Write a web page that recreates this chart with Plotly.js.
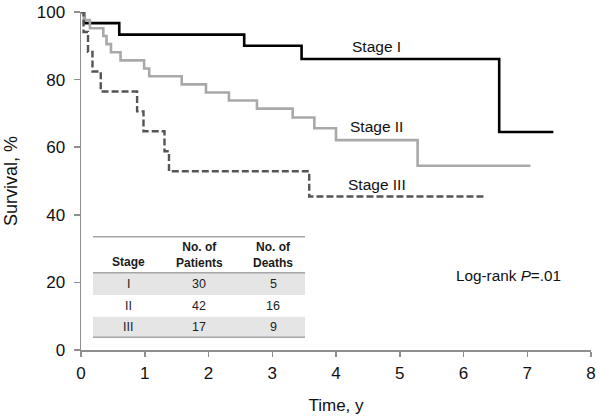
<!DOCTYPE html>
<html>
<head>
<meta charset="utf-8">
<script src="https://cdn.plot.ly/plotly-3.0.1.min.js"></script>
<style>
html, body { margin: 0; padding: 0; background: #fff; }
#chart { width: 600px; height: 418px; }
</style>
</head>
<body>
<div id="chart"></div>
<script>
// ---- Data ----
const stage1Time = [0, 0.05, 0.60, 2.56, 3.46, 6.56, 7.41];
const stage1Surv = [100, 96.7, 93.3, 90.0, 86.1, 64.5, 64.5];

const stage2Time = [0, 0.05, 0.14, 0.35, 0.40, 0.47, 0.62, 0.99, 1.07, 1.58, 1.96, 2.32, 2.76, 3.32, 3.66, 4.00, 5.28, 7.05];
const stage2Surv = [100, 97.6, 95.2, 92.9, 90.5, 88.1, 85.7, 83.3, 81.0, 78.6, 76.2, 73.8, 71.4, 68.8, 65.6, 62.1, 54.5, 54.5];

const stage3Time = [0, 0.04, 0.11, 0.18, 0.31, 0.88, 0.98, 1.31, 1.38, 3.58, 6.33];
const stage3Surv = [100, 94.1, 88.2, 82.4, 76.5, 70.6, 64.7, 58.8, 52.9, 45.4, 45.4];

const stageNames = ["Stage I", "Stage II", "Stage III"];
const tableStages = ["I", "II", "III"];
const tablePatients = [30, 42, 17];
const tableDeaths = [5, 16, 9];
const tableHeaders = ["Stage", "No. of<br>Patients", "No. of<br>Deaths"];

const xTicks = [0, 1, 2, 3, 4, 5, 6, 7, 8];
const yTicks = [0, 20, 40, 60, 80, 100];

// ---- Layout helpers ----
const W = 600, H = 418;
const M = { l: 81, r: 9, t: 12, b: 68 };
const pw = W - M.l - M.r, ph = H - M.t - M.b;
const xMax = 8, yMax = 100;
// convert image pixel coordinates to data coordinates (for annotation/shape placement)
const X = px => (px - M.l) / pw * xMax;
const Y = py => (H - M.b - py) / ph * yMax;

const FONT = "Liberation Sans, Arial, sans-serif";
const axisGray = "#8f8f8f";

const traces = [
  { x: stage1Time, y: stage1Surv, name: stageNames[0], mode: "lines",
    line: { shape: "hv", color: "#000000", width: 2.6 } },
  { x: stage2Time, y: stage2Surv, name: stageNames[1], mode: "lines",
    line: { shape: "hv", color: "#a9a9a9", width: 2.6 } },
  { x: stage3Time, y: stage3Surv, name: stageNames[2], mode: "lines",
    line: { shape: "hv", color: "#555555", width: 2.4, dash: "7px,3px" } }
];

const annotations = [];
const shapes = [];

// Curve labels
const labelPos = [[376.7, 46.7], [376.7, 126.7], [376.5, 184]];
stageNames.forEach((s, i) => {
  annotations.push({ x: X(labelPos[i][0]), y: Y(labelPos[i][1]), xref: "x", yref: "y",
    text: s, showarrow: false, xanchor: "center", yanchor: "middle",
    font: { family: FONT, size: 15.5, color: "#111" } });
});

// Log-rank annotation
annotations.push({ x: X(508), y: Y(275), xref: "x", yref: "y",
  text: "Log-rank <i>P</i>=.01", showarrow: false, xanchor: "center", yanchor: "middle",
  font: { family: FONT, size: 15.3, color: "#111" } });

// Table
const tblL = 93, tblR = 305;
const colX = [128.3, 199, 273.3];
const bandColor = "#e5e5e5";
const ruleColor = "#a6a6a6";
// bands for rows I and III
[[272.7, 295], [316.7, 337.3]].forEach(b => {
  shapes.push({ type: "rect", xref: "x", yref: "y", x0: X(tblL), x1: X(tblR), y0: Y(b[1]), y1: Y(b[0]),
    fillcolor: bandColor, line: { width: 0 }, layer: "below" });
});
[236.7, 272.7, 337.3].forEach(py => {
  shapes.push({ type: "line", xref: "x", yref: "y", x0: X(tblL), x1: X(tblR), y0: Y(py), y1: Y(py),
    line: { color: ruleColor, width: 1.6 }, layer: "below" });
});
tableHeaders.forEach((h, i) => {
  annotations.push({ x: X(colX[i]), y: Y(i === 0 ? 262 : 255), xref: "x", yref: "y",
    text: "<b>" + h + "</b>", showarrow: false, xanchor: "center", yanchor: "middle",
    font: { family: FONT, size: 12, color: "#1a1a1a" } });
});
const rowY = [284, 306, 327.3];
tableStages.forEach((s, r) => {
  const vals = [s, tablePatients[r], tableDeaths[r]];
  vals.forEach((v, c) => {
    annotations.push({ x: X(colX[c]), y: Y(rowY[r]), xref: "x", yref: "y",
      text: String(v), showarrow: false, xanchor: "center", yanchor: "middle",
      font: { family: FONT, size: 12.5, color: "#222" } });
  });
});

const layout = {
  width: W, height: H,
  margin: M,
  paper_bgcolor: "#fff", plot_bgcolor: "#fff",
  showlegend: false,
  font: { family: FONT, color: "#111" },
  xaxis: {
    range: [0, xMax], tickvals: xTicks, ticktext: xTicks.map(String),
    showgrid: false, zeroline: false, showline: true, linecolor: axisGray, linewidth: 1.5,
    ticks: "outside", ticklen: 5, tickwidth: 1.5, tickcolor: axisGray,
    ticklabelstandoff: 2,
    tickfont: { family: FONT, size: 17, color: "#111" },
    title: { text: "Time, y", font: { family: FONT, size: 17, color: "#111" }, standoff: 17 },
    fixedrange: true
  },
  yaxis: {
    range: [0, yMax], tickvals: yTicks, ticktext: yTicks.map(String),
    showgrid: false, zeroline: false, showline: true, linecolor: axisGray, linewidth: 1.5,
    ticks: "outside", ticklen: 6, tickwidth: 1.5, tickcolor: axisGray,
    ticklabelstandoff: 5,
    tickfont: { family: FONT, size: 17, color: "#111" },
    title: { text: "Survival, %", font: { family: FONT, size: 18, color: "#111" }, standoff: 14 },
    fixedrange: true
  },
  annotations: annotations,
  shapes: shapes
};

Plotly.newPlot("chart", traces, layout, { displayModeBar: false, staticPlot: true });
</script>
</body>
</html>
